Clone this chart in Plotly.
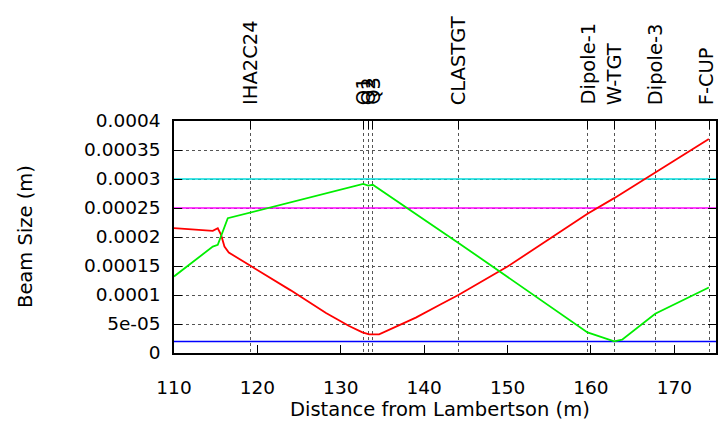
import plotly.graph_objects as go

# ---- data ----
red_s = [110.0, 112.5, 114.65, 115.25, 115.65, 116.05, 116.57, 119.17, 124.0, 128.23, 131.0, 132.6, 133.4, 134.6, 139.0, 142.0, 144.16, 150.0, 159.59, 162.79, 167.71, 174.14]
red_v = [0.0002152, 0.000213, 0.0002105, 0.000215, 0.0002036, 0.0001835, 0.0001732, 0.0001503, 0.000108, 0.0000689, 0.0000465, 0.0000355, 0.000032, 0.000032, 0.000061, 0.000084, 0.0001004, 0.000149, 0.00024, 0.000267, 0.000311, 0.000369]

grn_s = [110.0, 114.65, 115.25, 115.85, 116.45, 132.69, 133.29, 133.84, 144.16, 159.59, 162.79, 163.74, 167.71, 174.14]
grn_v = [0.0001319, 0.0001835, 0.0001864, 0.000209, 0.0002324, 0.0002915, 0.0002886, 0.00029, 0.0001894, 0.0000355, 0.00002, 0.0000229, 0.0000677, 0.0001129]

hlines = [0.0003, 0.00025, 0.00002]
hline_colors = ["#00dddd", "#ff00ff", "#0000ff"]

elem_names = ["IHA2C24", "Q1", "Q2", "Q3", "CLASTGT", "Dipole-1", "W-TGT", "Dipole-3", "F-CUP"]
elem_pos = [119.17, 132.69, 133.29, 133.84, 144.16, 159.59, 162.79, 167.71, 174.2]

x_range = [110, 175]
x_ticks = [110, 120, 130, 140, 150, 160, 170]
y_ticks = [0, 0.00005, 0.0001, 0.00015, 0.0002, 0.00025, 0.0003, 0.00035, 0.0004]
y_ticktext = ["0", "5e-05", "0.0001", "0.00015", "0.0002", "0.00025", "0.0003", "0.00035", "0.0004"]

FONT = "DejaVu Sans"
FS_TICK = 18.5
FS = 19.5

fig = go.Figure()
for v, c in zip(hlines, hline_colors):
    fig.add_trace(go.Scatter(x=x_range, y=[v, v], mode="lines",
                             line=dict(color=c, width=1.5), showlegend=False, hoverinfo="skip"))
fig.add_trace(go.Scatter(x=red_s, y=red_v, mode="lines", line=dict(color="#ff0000", width=1.8), showlegend=False))
fig.add_trace(go.Scatter(x=grn_s, y=grn_v, mode="lines", line=dict(color="#00ee00", width=1.8), showlegend=False))
fig.add_trace(go.Scatter(x=[], y=[], xaxis="x2", showlegend=False))

fig.update_layout(
    width=719, height=423,
    margin=dict(l=174, r=3, t=121, b=70),
    paper_bgcolor="white", plot_bgcolor="white",
    font=dict(family=FONT, size=FS_TICK, color="black"),
    xaxis=dict(range=x_range, tickvals=x_ticks, ticks="inside", ticklen=8, tickcolor="black",
               showline=True, linecolor="black", linewidth=1.5, mirror=True,
               showgrid=False, zeroline=False, ticklabelstandoff=17, automargin=False),
    xaxis2=dict(range=x_range, overlaying="x", side="top", tickvals=elem_pos,
                showticklabels=False, ticks="inside", ticklen=8, tickcolor="black",
                showgrid=True, gridcolor="#555555", griddash="dot", gridwidth=1,
                showline=False, zeroline=False, automargin=False),
    yaxis=dict(range=[0, 0.0004], tickvals=y_ticks, ticktext=y_ticktext,
               ticks="inside", ticklen=8, tickcolor="black",
               showline=True, linecolor="black", linewidth=1.5, mirror="ticks",
               showgrid=True, gridcolor="#555555", griddash="dot", gridwidth=1,
               zeroline=False, ticklabelstandoff=8, automargin=False),
)

annotations = []
for i, (name, p) in enumerate(zip(elem_names, elem_pos)):
    annotations.append(dict(x=p, xref="x", y=1, yref="paper", text=name, textangle=-90,
                            showarrow=False, xanchor="center", yanchor="bottom", yshift=14,
                            xshift=-3 if i == len(elem_names) - 1 else 0,
                            font=dict(family=FONT, size=FS)))
annotations.append(dict(x=0, xref="paper", y=0.5, yref="paper", text="Beam Size (m)", textangle=-90,
                        showarrow=False, xanchor="center", yanchor="middle", xshift=-149,
                        font=dict(family=FONT, size=FS)))
annotations.append(dict(x=0.5, xref="paper", y=0, yref="paper", text="Distance from Lambertson (m)",
                        showarrow=False, xanchor="center", yanchor="middle", xshift=-5, yshift=-56,
                        font=dict(family=FONT, size=FS)))
fig.update_layout(annotations=annotations)

fig.write_html("out.html", config={"displayModeBar": False},
               post_script="document.body.style.margin='0';document.body.style.overflow='hidden';")
